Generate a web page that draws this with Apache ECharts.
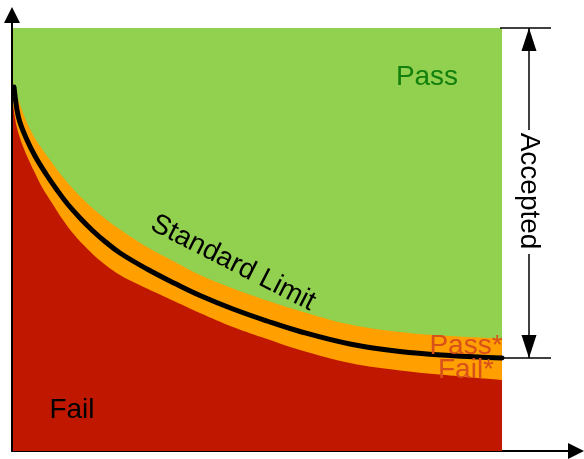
<!DOCTYPE html>
<html>
<head>
<meta charset="utf-8">
<script src="https://cdn.jsdelivr.net/npm/echarts@6/dist/echarts.min.js"></script>
<style>
  html, body { margin: 0; padding: 0; background: #fff; }
  #main { width: 584px; height: 459px; }
</style>
</head>
<body>
<div id="main"></div>
<script>
// schematic units: x from the y axis, y up from the x axis
var limitX = [2, 5, 8, 15, 23, 34, 45, 56, 68, 81, 93, 108, 135, 163, 188, 221, 255, 288, 338, 388, 438, 490];
var limitY = [364, 341, 328.5, 311, 295, 277, 261, 246.5, 233, 220, 209.5, 198, 182, 167.5, 155.5, 142, 130, 119.5, 107, 99.5, 95.5, 93];

// upper edge of the tolerance band (Pass*)
var passEdgeX = [1, 3, 6, 10, 13, 20, 28, 38, 50, 62, 75, 88, 108, 135, 163, 188, 221, 255, 288, 338, 388, 438, 490];
var passEdgeY = [368, 362, 352, 341, 333, 318, 305, 291, 275, 261, 248, 236.5, 221.5, 204, 189, 176, 162.5, 150.5, 140, 126.5, 119, 115, 112.5];

// lower edge of the tolerance band (Fail*)
var failEdgeX = [1, 3, 5, 9, 15, 22, 30, 40, 51, 62, 75, 88, 108, 135, 163, 188, 221, 255, 288, 338, 388, 438, 490];
var failEdgeY = [346, 333, 323, 310, 295, 280, 264, 248, 231, 216.5, 202.5, 190.5, 176, 162.5, 149.5, 138, 124, 112, 101, 88, 80.5, 75.5, 71];

var plotX = [1, 490];      // extent of the coloured field
var acceptedTop = 423;     // top of the field
var acceptedBottom = 93;   // where the limit ends

function pairs(xs, ys) {
  return xs.map(function (x, i) { return [x, ys[i]]; });
}

var chart = echarts.init(document.getElementById('main'));
var font = '"Liberation Sans", Arial, sans-serif';

function areaSeries(name, data, color, z) {
  return {
    name: name,
    type: 'line',
    data: data,
    smooth: 0.4,
    symbol: 'none',
    z: z,
    lineStyle: { width: 0, opacity: 0 },
    areaStyle: { color: color, opacity: 1 },
    silent: true
  };
}

function lineSeries(data, width, z) {
  return {
    type: 'line',
    data: data,
    symbol: 'none',
    z: z,
    lineStyle: { color: '#000', width: width },
    silent: true
  };
}

chart.setOption({
  animation: false,
  grid: { left: 12, top: 15, right: 8, bottom: 8 },
  xAxis: {
    type: 'value', min: 0, max: 564,
    axisLine: { show: true, symbol: ['none', 'triangle'], symbolSize: [16, 16], lineStyle: { color: '#000', width: 2 } },
    axisTick: { show: false }, axisLabel: { show: false }, splitLine: { show: false }
  },
  yAxis: {
    type: 'value', min: 0, max: 436,
    axisLine: { show: true, symbol: ['none', 'triangle'], symbolSize: [16, 16], lineStyle: { color: '#000', width: 2 } },
    axisTick: { show: false }, axisLabel: { show: false }, splitLine: { show: false }
  },
  series: [
    areaSeries('Pass', [[plotX[0], acceptedTop], [plotX[1], acceptedTop]], '#92D050', 1),
    areaSeries('Pass*', pairs(passEdgeX, passEdgeY), '#FF9F00', 2),
    areaSeries('Fail', pairs(failEdgeX, failEdgeY), '#C01800', 3),
    {
      name: 'Standard Limit',
      type: 'line',
      data: pairs(limitX, limitY),
      smooth: 0.4,
      symbol: 'none',
      z: 5,
      lineStyle: { color: '#000', width: 5, cap: 'round' },
      silent: true
    },
    // "Accepted" dimension lines
    lineSeries([[488, acceptedTop], [539, acceptedTop]], 1.5, 6),
    lineSeries([[490, acceptedBottom], [539, acceptedBottom]], 1.5, 6),
    {
      type: 'line',
      z: 6,
      silent: true,
      lineStyle: { color: '#000', width: 1.5 },
      data: [
        { value: [517, acceptedTop], symbol: 'triangle', symbolSize: [15, 23], symbolOffset: [0, 11.5], itemStyle: { color: '#000' } },
        { value: [517, 321], symbol: 'none' }
      ]
    },
    {
      type: 'line',
      z: 6,
      silent: true,
      lineStyle: { color: '#000', width: 1.5 },
      data: [
        { value: [517, 197], symbol: 'none' },
        { value: [517, acceptedBottom], symbol: 'triangle', symbolSize: [15, 23], symbolRotate: 180, symbolOffset: [0, -11.5], itemStyle: { color: '#000' } }
      ]
    },
    {
      type: 'scatter',
      z: 10,
      silent: true,
      symbolSize: 1,
      itemStyle: { color: 'rgba(0,0,0,0)' },
      label: {
        show: true, position: 'inside', align: 'center', verticalAlign: 'middle',
        fontFamily: font, fontSize: 28, opacity: 1, textBorderWidth: 0,
        formatter: function (p) { return p.name; }
      },
      data: [
        { name: 'Pass', value: [415, 374], label: { color: '#12800C' } },
        { name: 'Standard Limit', value: [221, 188], label: { color: '#000', rotate: -27 } },
        { name: 'Pass*', value: [454, 105], label: { color: '#D8501A' } },
        { name: 'Fail*', value: [454, 81], label: { color: '#D8501A' } },
        { name: 'Fail', value: [60, 41], label: { color: '#000' } },
        { name: 'Accepted', value: [517, 260], label: { color: '#000', rotate: -90 } }
      ]
    }
  ]
});
</script>
</body>
</html>
